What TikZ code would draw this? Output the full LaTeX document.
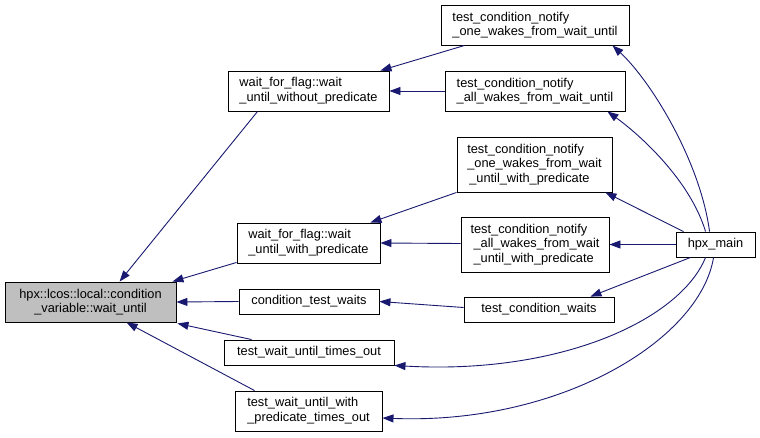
\documentclass[tikz,border=0pt]{standalone}
\usepackage{fontspec}
\setmainfont{Liberation Sans}
\usetikzlibrary{calc,arrows.meta}
\definecolor{midnight}{HTML}{191970}
\definecolor{maingray}{HTML}{BFBFBF}
\tikzset{
  box/.style={draw=black, fill=white, line width=0.9pt, inner sep=0pt, align=left,
    font=\fontsize{12.8}{14.7}\selectfont},
  edge/.style={draw=midnight, line width=0.9pt, {Triangle[length=11pt,width=8pt]}-},
}
\begin{document}
\begin{tikzpicture}[x=1pt,y=-1pt]
\useasboundingbox (0,0) rectangle (760,437);
\node[box, fill=maingray, align=center, minimum width=171pt, minimum height=40pt] (main) at (90.5,302) {hpx::lcos::local::condition\\\_variable::wait\_until};
\node[box, minimum width=161pt, minimum height=40pt] (wop) at (308.5,91) {wait\_for\_flag::wait\\\_until\_without\_predicate};
\node[box, minimum width=143pt, minimum height=40pt] (wwp) at (308.5,243) {wait\_for\_flag::wait\\\_until\_with\_predicate};
\node[box, minimum width=140pt, minimum height=25pt] (ctw) at (309,301.5) {condition\_test\_waits};
\node[box, minimum width=170pt, minimum height=25pt] (twto) at (309,352.5) {test\_wait\_until\_times\_out};
\node[box, minimum width=147pt, minimum height=40pt] (twpto) at (308.5,411) {test\_wait\_until\_with\\\_predicate\_times\_out};
\node[box, minimum width=188pt, minimum height=40pt] (n1) at (535,25) {test\_condition\_notify\\\_one\_wakes\_from\_wait\_until};
\node[box, minimum width=180pt, minimum height=40pt] (na) at (535,91) {test\_condition\_notify\\\_all\_wakes\_from\_wait\_until};
\node[box, minimum width=155pt, minimum height=55pt] (n1p) at (534.5,164.5) {test\_condition\_notify\\\_one\_wakes\_from\_wait\\\hspace{2pt}\_until\_with\_predicate};
\node[box, minimum width=148pt, minimum height=55pt] (nap) at (535,244.5) {test\_condition\_notify\\\hspace{3pt}\_all\_wakes\_from\_wait\\\hspace{3pt}\_until\_with\_predicate};
\node[box, minimum width=150pt, minimum height=25pt] (tcw) at (539,309.5) {test\_condition\_waits};
\node[box, align=center, minimum width=79pt, minimum height=25pt] (hpx) at (715.5,244.5) {hpx\_main};

% edges into main
\draw[edge] ($(main.north west)+(115,0)$) -- ($(wop.south west)+(30,0)$);
\draw[edge] ($(main.north east)+(-4,0)$) -- ($(wwp.south west)+(0,-1)$);
\draw[edge] (main.east) -- (ctw.west);
\draw[edge] ($(main.south east)+(1,1)$) -- ($(twto.north west)+(28,0)$);
\draw[edge] ($(main.south west)+(122,0)$) -- ($(twpto.north west)+(20,0)$);
% second level
\draw[edge] ($(wop.north east)+(-9,0)$) -- ($(n1.south west)+(24,0)$);
\draw[edge] (wop.east) -- (na.west);
\draw[edge] ($(wwp.north east)+(-10,0)$) -- (n1p.south west);
\draw[edge] (wwp.east) -- ($(nap.west)+(0,-1)$);
\draw[edge] (ctw.east) -- ($(tcw.west)+(0,-2)$);
% from hpx_main
\draw[edge] ($(n1.south east)+(-17,0)$) .. controls (650,80) and (700,160) .. ($(hpx.north west)+(34,0)$);
\draw[edge] ($(na.south east)+(-18,0)$) .. controls (640,135) and (690,180) .. ($(hpx.north west)+(30,0)$);
\draw[edge] ($(n1p.south east)+(-7,0)$) -- ($(hpx.north west)+(8,0)$);
\draw[edge] (nap.east) -- (hpx.west);
\draw[edge] ($(tcw.north east)+(-24,0)$) -- ($(hpx.south west)+(15,0)$);
\draw[edge] (twto.south east) .. controls (560,375) and (680,320) .. ($(hpx.south west)+(30,0)$);
\draw[edge] ($(twpto.east)+(0,7)$) .. controls (560,425) and (700,340) .. ($(hpx.south west)+(38,0)$);
\end{tikzpicture}
\end{document}
